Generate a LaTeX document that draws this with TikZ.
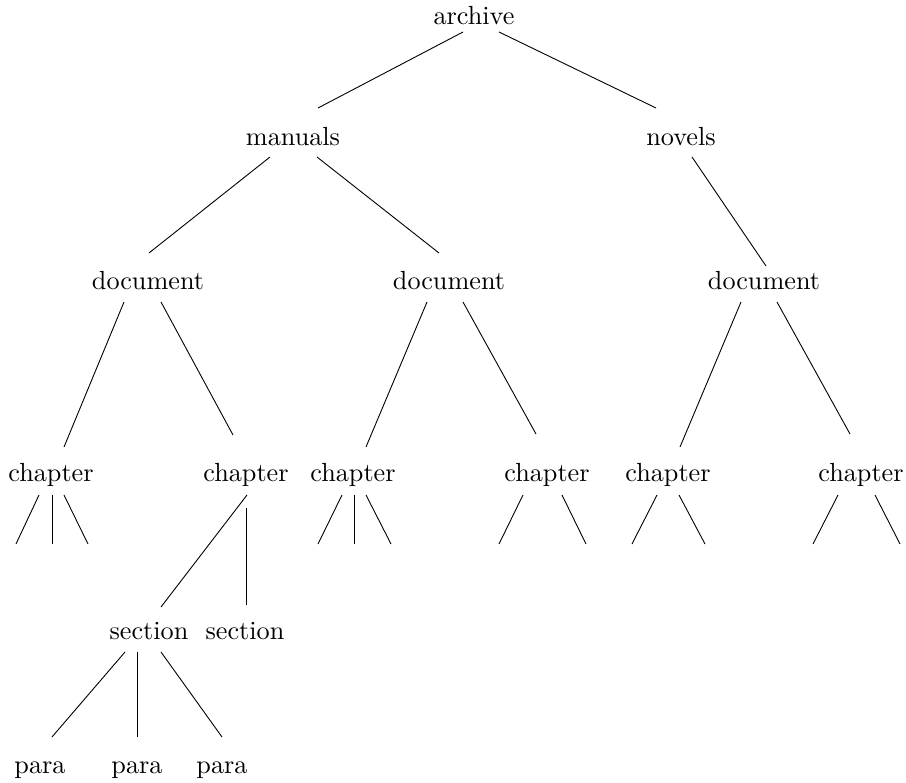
\documentclass[tikz,border=0pt]{standalone}
\usetikzlibrary{calc}
\tikzset{
  lbl/.style={anchor=base, scale=2.62, inner sep=0pt},
  edge/.style={draw=black, line width=0.9pt}
}
\begin{document}
\begin{tikzpicture}[x=1pt,y=-1pt]
\useasboundingbox (0,0) rectangle (906,783);
% nodes (anchored at baseline)
\node[lbl] (arc) at (474,25) {archive};
\node[lbl] (man) at (293,146) {manuals};
\node[lbl] (nov) at (681,146) {novels};
\node[lbl] (dL) at (148,290) {document};
\node[lbl] (dM) at (449,290) {document};
\node[lbl] (dR) at (764,290) {document};
\node[lbl] (c1) at (51,482) {chapter};
\node[lbl] (c2) at (246,482) {chapter};
\node[lbl] (c3) at (353,482) {chapter};
\node[lbl] (c4) at (547,482) {chapter};
\node[lbl] (c5) at (668,482) {chapter};
\node[lbl] (c6) at (861,482) {chapter};
\node[lbl] (s1) at (149,640) {section};
\node[lbl] (s2) at (245,640) {section};
\node[lbl] (p1) at (40,773) {para};
\node[lbl] (p2) at (137,773) {para};
\node[lbl] (p3) at (222,773) {para};
% free ends of the dangling edges
\coordinate (c1a) at ($(c1.base)+(-35,62)$);
\coordinate (c1b) at ($(c1.base)+(1,62)$);
\coordinate (c1c) at ($(c1.base)+(37,62)$);
\coordinate (c3a) at ($(c3.base)+(-35,62)$);
\coordinate (c3b) at ($(c3.base)+(1,62)$);
\coordinate (c3c) at ($(c3.base)+(38,62)$);
\coordinate (c4a) at ($(c4.base)+(-48,62)$);
\coordinate (c4c) at ($(c4.base)+(39,62)$);
\coordinate (c5a) at ($(c5.base)+(-36,62)$);
\coordinate (c5c) at ($(c5.base)+(37,62)$);
\coordinate (c6a) at ($(c6.base)+(-48,62)$);
\coordinate (c6c) at ($(c6.base)+(39,62)$);
% tree edges
\path[edge] ($(arc.base)+(-11,7)$) -- ($(man.base)+(25,-38)$);
\path[edge] ($(arc.base)+(25,7)$) -- ($(nov.base)+(-25,-38)$);
\path[edge] ($(man.base)+(-23,11)$) -- ($(dL.base)+(1,-37)$);
\path[edge] ($(man.base)+(24,11)$) -- ($(dM.base)+(-10,-37)$);
\path[edge] ($(nov.base)+(11,11)$) -- ($(dR.base)+(2,-24)$);
\path[edge] ($(dL.base)+(-24,12)$) -- ($(c1.base)+(13,-35)$);
\path[edge] ($(dL.base)+(13,12)$) -- ($(c2.base)+(-13,-47)$);
\path[edge] ($(dM.base)+(-22,12)$) -- ($(c3.base)+(13,-35)$);
\path[edge] ($(dM.base)+(14,12)$) -- ($(c4.base)+(-11,-48)$);
\path[edge] ($(dR.base)+(-23,12)$) -- ($(c5.base)+(12,-35)$);
\path[edge] ($(dR.base)+(13,12)$) -- ($(c6.base)+(-11,-48)$);
\path[edge] ($(c2.base)+(1,13)$) -- ($(s1.base)+(12,-33)$);
\path[edge] ($(c2.base)+(0,26)$) -- ($(s2.base)+(1,-35)$);
\path[edge] ($(s1.base)+(-24,12)$) -- ($(p1.base)+(12,-36)$);
\path[edge] ($(s1.base)+(-12,12)$) -- ($(p2.base)+(0,-36)$);
\path[edge] ($(s1.base)+(12,12)$) -- ($(p3.base)+(0,-36)$);
% dangling edges
\path[edge] ($(c1.base)+(-12,13)$) -- (c1a);
\path[edge] ($(c1.base)+(1,13)$) -- (c1b);
\path[edge] ($(c1.base)+(13,13)$) -- (c1c);
\path[edge] ($(c3.base)+(-11,13)$) -- (c3a);
\path[edge] ($(c3.base)+(1,13)$) -- (c3b);
\path[edge] ($(c3.base)+(13,13)$) -- (c3c);
\path[edge] ($(c4.base)+(-24,13)$) -- (c4a);
\path[edge] ($(c4.base)+(15,13)$) -- (c4c);
\path[edge] ($(c5.base)+(-11,13)$) -- (c5a);
\path[edge] ($(c5.base)+(11,13)$) -- (c5c);
\path[edge] ($(c6.base)+(-23,13)$) -- (c6a);
\path[edge] ($(c6.base)+(14,13)$) -- (c6c);
\end{tikzpicture}
\end{document}
